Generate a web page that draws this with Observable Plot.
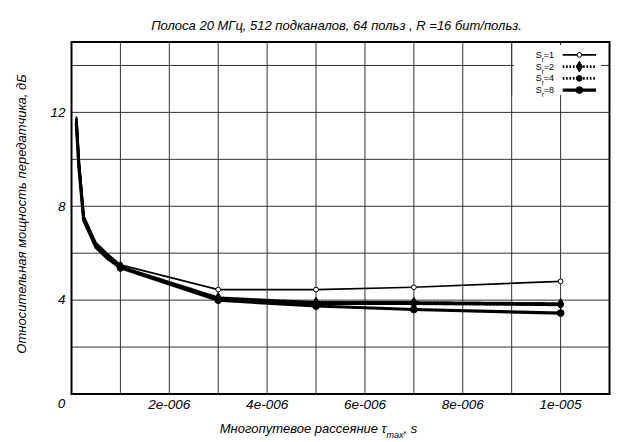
<!DOCTYPE html>
<html><head><meta charset="utf-8">
<script src="https://cdn.jsdelivr.net/npm/d3@7"></script>
<script src="https://cdn.jsdelivr.net/npm/@observablehq/plot@0.6"></script>
<style>body{margin:0;background:#fff}</style>
</head><body><div id="chart"></div>
<script>
// data
const delays = [1e-7, 1.5e-7, 2.5e-7, 5e-7, 7.5e-7, 1e-6, 3e-6, 5e-6, 7e-6, 1e-5];
const sr1 = [11.8, 10.0, 7.6, 6.45, 5.95, 5.5, 4.45, 4.45, 4.55, 4.8];
const sr2 = [11.7, 9.9, 7.5, 6.35, 5.85, 5.42, 4.1, 3.9, 3.9, 3.85];
const sr4 = [11.6, 9.8, 7.45, 6.3, 5.8, 5.4, 4.05, 3.85, 3.85, 3.8];
const sr8 = [11.5, 9.7, 7.4, 6.25, 5.75, 5.38, 4.0, 3.75, 3.6, 3.45];
const seriesNames = ["1", "2", "4", "8"];
const xTicks = [2e-6, 4e-6, 6e-6, 8e-6, 1e-5];
const xTickLabels = ["2e-006", "4e-006", "6e-006", "8e-006", "1e-005"];
const yTicks = [4, 8, 12];
const yTickLabels = ["4", "8", "12"];
const xGrid = [1e-6, 2e-6, 3e-6, 4e-6, 5e-6, 6e-6, 7e-6, 8e-6, 9e-6, 1e-5];
const yGrid = [2, 4, 6, 8, 10, 12, 14];
const titleText = "Полоса 20 МГц, 512 подканалов, 64 польз , R =16 бит/польз.";
const xLabel = "Многопутевое рассеяние τ";
const yLabel = "Относительная мощность передатчика, дБ";

const values = [sr1, sr2, sr4, sr8];
const styles = [
  {sw: 1.7, dash: null, sym: "circle", r: 2.4, fill: "white"},
  {sw: 2.8, dash: "1.6,1.8", sym: "diamond", r: 3.2, fill: "black"},
  {sw: 2.8, dash: "1.6,1.8", sym: "circle", r: 2.8, fill: "black"},
  {sw: 3.2, dash: null, sym: "circle", r: 3.4, fill: "black"}
];
const rows = [];
seriesNames.forEach((s, k) => delays.forEach((x, i) => rows.push({s, k, x, y: values[k][i]})));

const xMax = 1.1e-5, yMax = 15;
const legend = seriesNames.map((s, i) => ({s, i, y: yMax * (0.9633 - 0.0333 * i)}));
const lx = f => xMax * f;

const marks = [
  Plot.ruleX(xGrid, {stroke: "#333", strokeWidth: 1}),
  Plot.ruleY(yGrid, {stroke: "#333", strokeWidth: 1}),
  Plot.rect([0], {x1: () => lx(0.823), x2: () => lx(0.985), y1: () => yMax * 0.848, y2: () => yMax * 0.99, fill: "white"}),
  Plot.ruleX([xGrid[8]], {y1: yMax * 0.848, y2: yMax, stroke: "#333", strokeWidth: 1})
];
seriesNames.forEach((s, k) => {
  const st = styles[k];
  const data = rows.filter(d => d.k === k);
  marks.push(Plot.line(data, {x: "x", y: "y", stroke: "black", strokeWidth: st.sw, strokeDasharray: st.dash}));
  marks.push(Plot.dot(data.filter(d => d.x >= 1e-6), {x: "x", y: "y", symbol: st.sym, r: st.r, fill: st.fill, stroke: "black", strokeWidth: 1}));
  const lg = legend.filter(d => d.i === k);
  marks.push(Plot.link(lg, {x1: () => lx(0.913), x2: () => lx(0.975), y1: "y", y2: "y", stroke: "black", strokeWidth: st.sw, strokeDasharray: st.dash}));
  marks.push(Plot.dot(lg, {x: () => lx(0.944), y: "y", symbol: st.sym, r: st.r, fill: st.fill, stroke: "black", strokeWidth: 1}));
});
marks.push(
  Plot.text(legend, {x: () => lx(0.897), y: "y", text: d => "S=" + d.s, textAnchor: "end", fontSize: 9, fontFamily: "Liberation Sans", className: "legtext"}),
  Plot.axisX(xTicks, {tickSize: 0, tickPadding: 5, tickFormat: (d, i) => xTickLabels[i], fontSize: 13.5, fontStyle: "italic", fontFamily: "Liberation Sans", label: null}),
  Plot.axisY(yTicks, {tickSize: 0, tickPadding: 6, tickFormat: (d, i) => yTickLabels[i], fontSize: 13.5, fontStyle: "italic", fontFamily: "Liberation Sans", label: null}),
  Plot.text([0], {x: 0, y: 0, text: () => "0", dx: -10, dy: 10, fontSize: 13.5, fontStyle: "italic", fontFamily: "Liberation Sans"}),
  Plot.text([titleText], {frameAnchor: "top", text: d => d, dy: -21, dx: -4, fontSize: 13, fontStyle: "italic", fontFamily: "Liberation Sans"}),
  Plot.text([xLabel], {frameAnchor: "bottom", text: d => d, dy: 39, dx: -22, fontSize: 13, fontStyle: "italic", fontFamily: "Liberation Sans", className: "xlab"}),
  Plot.text([yLabel], {frameAnchor: "left", textAnchor: "middle", text: d => d, rotate: -90, dx: -50, dy: -4, fontSize: 13, fontStyle: "italic", fontFamily: "Liberation Sans"}),
  Plot.frame({stroke: "black", strokeWidth: 2})
);

const chart = Plot.plot({
  width: 617, height: 442,
  marginLeft: 71, marginRight: 8, marginTop: 41.5, marginBottom: 48.5,
  style: {background: "white", color: "black", fontFamily: "Liberation Sans"},
  x: {domain: [0, xMax], axis: null},
  y: {domain: [0, yMax], axis: null},
  marks
});
document.getElementById("chart").appendChild(chart);

d3.select(chart).selectAll(".legtext text").each(function () {
  const t = d3.select(this); const s = t.text().split("=")[1];
  t.text(null);
  t.append("tspan").text("S");
  t.append("tspan").attr("baseline-shift", "sub").attr("font-size", 6.5).text("r");
  t.append("tspan").text("=" + s);
});
d3.select(chart).selectAll(".xlab text").each(function () {
  const t = d3.select(this); const s = t.text();
  t.text(null);
  t.append("tspan").text(s);
  t.append("tspan").attr("baseline-shift", "sub").attr("font-size", 9).text("max");
  t.append("tspan").text(", s");
});
</script></body></html>
